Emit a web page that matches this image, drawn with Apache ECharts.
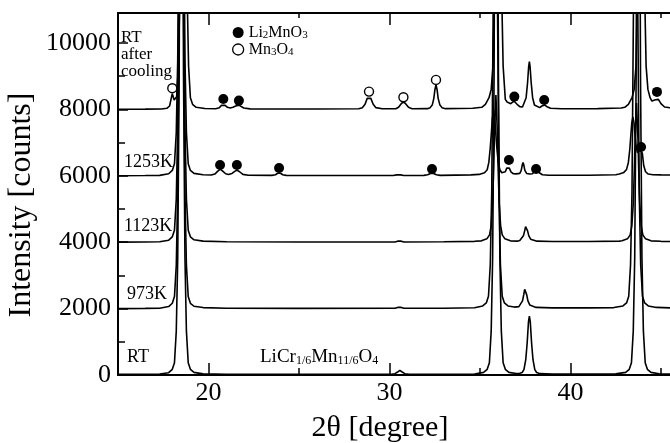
<!DOCTYPE html>
<html><head><meta charset="utf-8">
<script src="https://cdn.jsdelivr.net/npm/echarts@6.0.0/dist/echarts.min.js"></script>
<style>html,body{margin:0;padding:0;background:#fff}#c{width:670px;height:443px}</style>
</head><body><div id="c"></div>
<script>
// ---------- data (2θ [deg], intensity [counts], traces stacked with offsets) ----------
const sampleNames = ['RT', '973K', '1123K', '1253K', 'RT after cooling'];

const traceRT = [
[15,20],[16.5,22],[17.3,28],
[17.8,70],[18.0,170],[18.12,370],[18.22,1320],[18.3,3520],[18.38,9020],[18.45,20020],[18.5,25000],[18.55,20020],[18.62,9020],[18.7,3520],[18.78,1320],[18.88,370],[19.0,170],[19.2,80],[19.7,35],[21,22],[25,20],
[30.1,22],[30.3,40],[30.45,90],[30.57,140],[30.7,90],[30.85,40],[31.1,22],
[33,22],[34.7,30],
[35.2,80],[35.4,170],[35.52,370],[35.62,1320],[35.7,3520],[35.78,9020],[35.85,20020],[35.9,25000],[35.95,20020],[36.02,9020],[36.1,3520],[36.18,1320],[36.28,370],[36.4,170],[36.6,80],[37.0,45],
[37.2,50],[37.33,75],[37.43,160],[37.53,460],[37.61,980],[37.68,1600],[37.73,1770],[37.78,1600],[37.85,980],[37.93,460],[38.03,160],[38.13,75],[38.33,40],[39,25],[41,25],[42.5,35],
[43.05,80],[43.25,170],[43.37,370],[43.47,1320],[43.55,3520],[43.63,9020],[43.7,20020],[43.75,25000],[43.8,20020],[43.87,9020],[43.95,3520],[44.03,1320],[44.13,370],[44.25,170],[44.45,80],[44.9,35],[45.6,25]
];

const trace973K = [
[15,2000],[16.5,2005],[17.3,2010],
[17.8,2060],[18.0,2160],[18.12,2360],[18.22,3300],[18.3,5500],[18.38,11000],[18.45,22000],[18.5,27000],[18.55,22000],[18.62,11000],[18.7,5500],[18.78,3300],[18.88,2360],[19.0,2160],[19.2,2070],[19.7,2030],[21,2010],[25,2005],
[30.3,2008],[30.45,2035],[30.55,2060],[30.65,2035],[30.8,2008],
[33,2010],[34.7,2025],
[35.15,2080],[35.35,2170],[35.47,2370],[35.57,3320],[35.65,5520],[35.73,11000],[35.8,22000],[35.85,27000],[35.9,22000],[35.97,11000],[36.05,5520],[36.13,3320],[36.23,2370],[36.35,2170],[36.55,2080],[36.9,2045],
[37.0,2040],[37.15,2060],[37.25,2110],[37.35,2230],[37.42,2420],[37.47,2580],[37.5,2620],[37.53,2580],[37.58,2420],[37.65,2230],[37.75,2110],[37.85,2060],[38.1,2035],[39,2020],[41,2020],[42.4,2030],
[42.9,2080],[43.1,2170],[43.22,2370],[43.32,3320],[43.4,5520],[43.48,11000],[43.55,22000],[43.6,27000],[43.65,22000],[43.72,11000],[43.8,5520],[43.88,3320],[43.98,2370],[44.1,2170],[44.3,2080],[44.75,2035],[45.6,2020]
];

const trace1123K = [
[15,4000],[16.5,4005],[17.3,4010],
[17.8,4060],[18.0,4160],[18.12,4360],[18.22,5300],[18.3,7500],[18.38,13000],[18.45,24000],[18.5,29000],[18.55,24000],[18.62,13000],[18.7,7500],[18.78,5300],[18.88,4360],[19.0,4160],[19.2,4070],[19.7,4030],[21,4010],[25,4005],
[30.3,4006],[30.45,4030],[30.55,4050],[30.65,4030],[30.8,4006],
[33,4010],[34.7,4025],
[35.08,4040],[35.38,4100],[35.53,4220],[35.62,4500],[35.7,5200],[35.76,6300],[35.8,7300],[35.88,8430],[35.96,7300],[36.0,6300],[36.06,5200],[36.14,4500],[36.23,4220],[36.38,4100],[36.68,4040],
[37.05,4030],[37.2,4050],[37.3,4090],[37.4,4190],[37.47,4340],[37.52,4470],[37.55,4500],[37.58,4470],[37.63,4340],[37.7,4190],[37.8,4090],[37.9,4050],[38.15,4030],[39,4020],[41,4020],[42.7,4030],
[42.85,4040],[43.15,4100],[43.3,4220],[43.39,4480],[43.47,5150],[43.53,6200],[43.57,7100],[43.65,8190],[43.73,7100],[43.77,6200],[43.83,5150],[43.91,4480],[44.0,4220],[44.15,4100],[44.45,4040],[45,4025],[45.6,4020]
];

const trace1253K = [
[15,6000],[16.5,6005],[17.3,6010],
[17.8,6060],[18.0,6160],[18.12,6360],[18.22,7300],[18.3,9500],[18.38,15000],[18.45,26000],[18.5,31000],[18.55,26000],[18.62,15000],[18.7,9500],[18.78,7300],[18.88,6360],[19.0,6160],[19.2,6070],[19.7,6030],
[20.15,6020],[20.35,6050],[20.5,6130],[20.6,6190],[20.65,6200],[20.7,6190],[20.8,6130],[20.95,6060],[21.1,6040],[21.3,6070],[21.45,6130],[21.53,6165],[21.57,6170],[21.62,6165],[21.72,6120],[21.9,6040],[22.2,6015],
[23.5,6010],[23.7,6030],[23.82,6075],[23.9,6090],[23.98,6075],[24.1,6030],[24.3,6010],
[27,6005],[30.2,6008],[30.4,6025],[30.5,6040],[30.6,6025],[30.8,6008],
[31.9,6010],[32.1,6030],[32.27,6070],[32.35,6080],[32.43,6070],[32.6,6030],[32.8,6010],
[34.5,6025],
[34.95,6040],[35.25,6090],[35.4,6180],[35.49,6400],[35.57,6850],[35.63,7300],[35.68,7700],[35.75,7980],[35.82,7700],[35.87,7300],[35.93,6850],[36.01,6400],[36.1,6180],[36.2,6090],
[36.3,6070],[36.4,6120],[36.48,6230],[36.55,6290],[36.62,6230],[36.72,6110],[36.85,6060],[37.0,6055],
[37.2,6070],[37.28,6160],[37.34,6330],[37.38,6400],[37.42,6330],[37.48,6160],[37.58,6070],[37.75,6050],
[37.9,6060],[38.0,6120],[38.08,6160],[38.12,6165],[38.18,6155],[38.28,6090],[38.45,6030],[38.8,6015],
[41,6015],[42.5,6030],
[42.7,6050],[42.95,6100],[43.1,6190],[43.2,6400],[43.28,6800],[43.34,7250],[43.39,7600],[43.45,7770],[43.51,7600],[43.56,7250],[43.62,6900],[43.7,6700],
[43.78,6740],[43.85,6790],[43.9,6790],[43.97,6680],[44.05,6300],[44.15,6120],[44.3,6050],[44.55,6030],[45,6025],[45.6,6020]
];

const traceAfterCooling = [
[15,8000],[16.5,8005],[17.4,8010],
[17.7,8030],[17.85,8100],[17.95,8350],[18.0,8470],[18.05,8380],[18.1,8280],[18.16,8250],[18.24,8380],[18.34,9300],[18.42,11500],[18.5,17000],[18.57,28000],[18.62,33000],[18.67,28000],[18.74,17000],[18.82,11500],[18.9,9300],[19.0,8350],[19.12,8150],[19.32,8060],[19.8,8025],
[20.4,8015],[20.6,8050],[20.72,8120],[20.82,8150],[20.92,8120],[21.05,8060],[21.2,8040],[21.35,8060],[21.5,8100],[21.6,8120],[21.68,8125],[21.78,8100],[21.95,8040],[22.3,8012],
[26,8008],[28.3,8015],
[28.5,8050],[28.65,8150],[28.77,8330],[28.87,8380],[28.97,8330],[29.1,8150],[29.25,8050],[29.6,8015],
[30.35,8015],[30.5,8060],[30.65,8170],[30.77,8220],[30.89,8170],[31.05,8060],[31.25,8015],
[32.1,8020],[32.25,8050],[32.37,8140],[32.45,8330],[32.51,8590],[32.57,8740],[32.63,8590],[32.69,8330],[32.78,8140],[32.9,8050],[33.1,8020],
[34.6,8030],
[35.1,8060],[35.3,8150],[35.5,8350],[35.62,8600],[35.72,9300],[35.8,11500],[35.88,17000],[35.95,28000],[36.0,33000],[36.05,28000],[36.12,17000],[36.2,11500],[36.28,9300],[36.4,8300],
[36.5,8220],[36.6,8190],[36.7,8170],[36.8,8200],[36.88,8250],[36.96,8240],[37.05,8150],[37.2,8080],
[37.35,8070],[37.45,8130],[37.55,8350],[37.63,8800],[37.69,9280],[37.73,9440],[37.77,9280],[37.83,8800],[37.91,8350],[38.01,8130],[38.12,8080],
[38.3,8050],[38.42,8100],[38.52,8130],[38.58,8130],[38.7,8080],[38.9,8030],[39.5,8015],
[41.5,8020],[42.8,8040],
[43.0,8060],[43.2,8150],[43.4,8350],[43.52,8600],[43.62,9300],[43.7,11500],[43.78,17000],[43.85,28000],[43.9,33000],[43.95,28000],[44.02,17000],[44.1,11500],[44.18,9300],[44.28,8600],[44.4,8350],
[44.5,8250],[44.6,8230],[44.7,8290],[44.78,8330],[44.86,8300],[45.0,8170],[45.2,8070],[45.6,8040]
];

// phase markers (peak identifications)
const li2mno3Marks = [[20.64,6325],[21.57,6325],[23.9,6235],[32.35,6205],[36.6,6475],[38.1,6205],[43.9,6867],
                      [20.82,8313],[21.68,8262],[36.9,8383],[38.55,8283],[44.78,8524]];
const mn3o4Marks = [[18.0,8636],[28.87,8533],[30.77,8364],[32.57,8886]];

// axes
const xMajorTicks = [20, 30, 40];
const xMinorTicks = [25, 35, 45];
const yMajorTicks = [0, 2000, 4000, 6000, 8000, 10000];
const yMinorTicks = [1000, 3000, 5000, 7000, 9000];
const xRange = [15, 45.5];
const yRange = [0, 10900];

// ---------- chart ----------
const FONT = "'Liberation Serif', 'Times New Roman', serif";
const chart = echarts.init(document.getElementById('c'), null, {renderer: 'canvas'});
const traces = [traceRT, trace973K, trace1123K, trace1253K, traceAfterCooling];

const lineSeries = traces.map((d, i) => ({
  name: sampleNames[i], type: 'line', data: d, symbol: 'none', showSymbol: false,
  lineStyle: {color: '#000', width: 1.6}, z: 2, silent: true, clip: true, smooth: false
}));

function xAx(pos, ticks, len, withLine, withLabel) {
  return {
    type: 'value', min: xRange[0], max: xRange[1], position: pos,
    axisLine: {show: withLine, onZero: false, lineStyle: {color: '#000', width: 2}},
    axisTick: {show: true, inside: true, length: len, customValues: ticks, lineStyle: {color: '#000', width: 1.5}},
    axisLabel: {show: withLabel, customValues: ticks, formatter: v => String(v), color: '#000', fontFamily: FONT, fontSize: 26, margin: 5},
    splitLine: {show: false}
  };
}
function yAx(ticks, len, withLine, withLabel) {
  return {
    type: 'value', min: yRange[0], max: yRange[1], position: 'left',
    axisLine: {show: withLine, onZero: false, lineStyle: {color: '#000', width: 2}},
    axisTick: {show: true, inside: true, length: len, customValues: ticks, lineStyle: {color: '#000', width: 1.5}},
    axisLabel: {show: withLabel, customValues: ticks, formatter: v => String(v), color: '#000', fontFamily: FONT, fontSize: 26, margin: 7},
    splitLine: {show: false}
  };
}

const option = {
  animation: false,
  backgroundColor: '#fff',
  grid: {left: 118, right: 0, top: 13, bottom: 68, containLabel: false},
  xAxis: [
    xAx('bottom', xMajorTicks, 12, true, true),
    xAx('bottom', xMinorTicks, 7, false, false),
    xAx('top', xMajorTicks, 12, true, false),
    xAx('top', xMinorTicks, 5, false, false)
  ],
  yAxis: [
    yAx(yMajorTicks, 10, true, true),
    yAx(yMinorTicks, 7, false, false)
  ],
  legend: {
    show: true, orient: 'vertical', left: 227, top: 19, itemWidth: 11, itemHeight: 11, itemGap: 0,
    selectedMode: false,
    data: [
      {name: 'Li2MnO3', icon: 'circle', itemStyle: {color: '#000', borderWidth: 0, opacity: 1}},
      {name: 'Mn3O4', icon: 'circle', itemStyle: {color: '#fff', borderColor: '#000', borderWidth: 1.3, opacity: 1}}
    ],
    formatter: n => n === 'Li2MnO3' ? 'Li{s|2}MnO{s|3}' : 'Mn{s|3}O{s|4}',
    textStyle: {color: '#000', fontFamily: FONT, fontSize: 16, lineHeight: 17,
      rich: {s: {fontFamily: FONT, fontSize: 11, color: '#000', verticalAlign: 'bottom', padding: [6, 0, 0, 0]}}}
  },
  series: lineSeries.concat([
    {name: 'Li2MnO3', type: 'scatter', data: li2mno3Marks, symbol: 'circle', symbolSize: 10,
     itemStyle: {color: '#000', opacity: 1}, z: 5, silent: true},
    {name: 'Mn3O4', type: 'scatter', data: mn3o4Marks, symbol: 'circle', symbolSize: 9,
     itemStyle: {color: '#fff', borderColor: '#000', borderWidth: 1.4, opacity: 1}, z: 5, silent: true}
  ]),
  graphic: [
    {type: 'text', left: 121, top: 29, z: 10, style: {text: 'RT\nafter\ncooling', font: '17px ' + FONT, lineHeight: 17, fill: '#000'}},
    {type: 'text', x: 124, y: 162, z: 10, style: {text: '1253K', font: '18px ' + FONT, fill: '#000', verticalAlign: 'middle'}},
    {type: 'text', x: 124, y: 226, z: 10, style: {text: '1123K', font: '18px ' + FONT, fill: '#000', verticalAlign: 'middle'}},
    {type: 'text', x: 127, y: 294, z: 10, style: {text: '973K', font: '18px ' + FONT, fill: '#000', verticalAlign: 'middle'}},
    {type: 'text', x: 127, y: 357, z: 10, style: {text: 'RT', font: '18px ' + FONT, fill: '#000', verticalAlign: 'middle'}},
    {type: 'text', x: 260, y: 357, z: 10, style: {
      text: 'LiCr{s|1/6}Mn{s|11/6}O{s|4}', font: '19px ' + FONT, fill: '#000', verticalAlign: 'middle',
      rich: {s: {font: '12px ' + FONT, fill: '#000', verticalAlign: 'bottom', padding: [8, 0, 0, 0]}}}},
    {type: 'text', x: 380, y: 428, z: 10, style: {text: '2θ [degree]', font: '30px ' + FONT, fill: '#000', align: 'center', verticalAlign: 'middle'}},
    {type: 'text', x: 22, y: 205, rotation: Math.PI / 2, z: 10, style: {text: 'Intensity [counts]', font: '32px ' + FONT, fill: '#000', align: 'center', verticalAlign: 'middle'}}
  ]
};
chart.setOption(option);
</script></body></html>
